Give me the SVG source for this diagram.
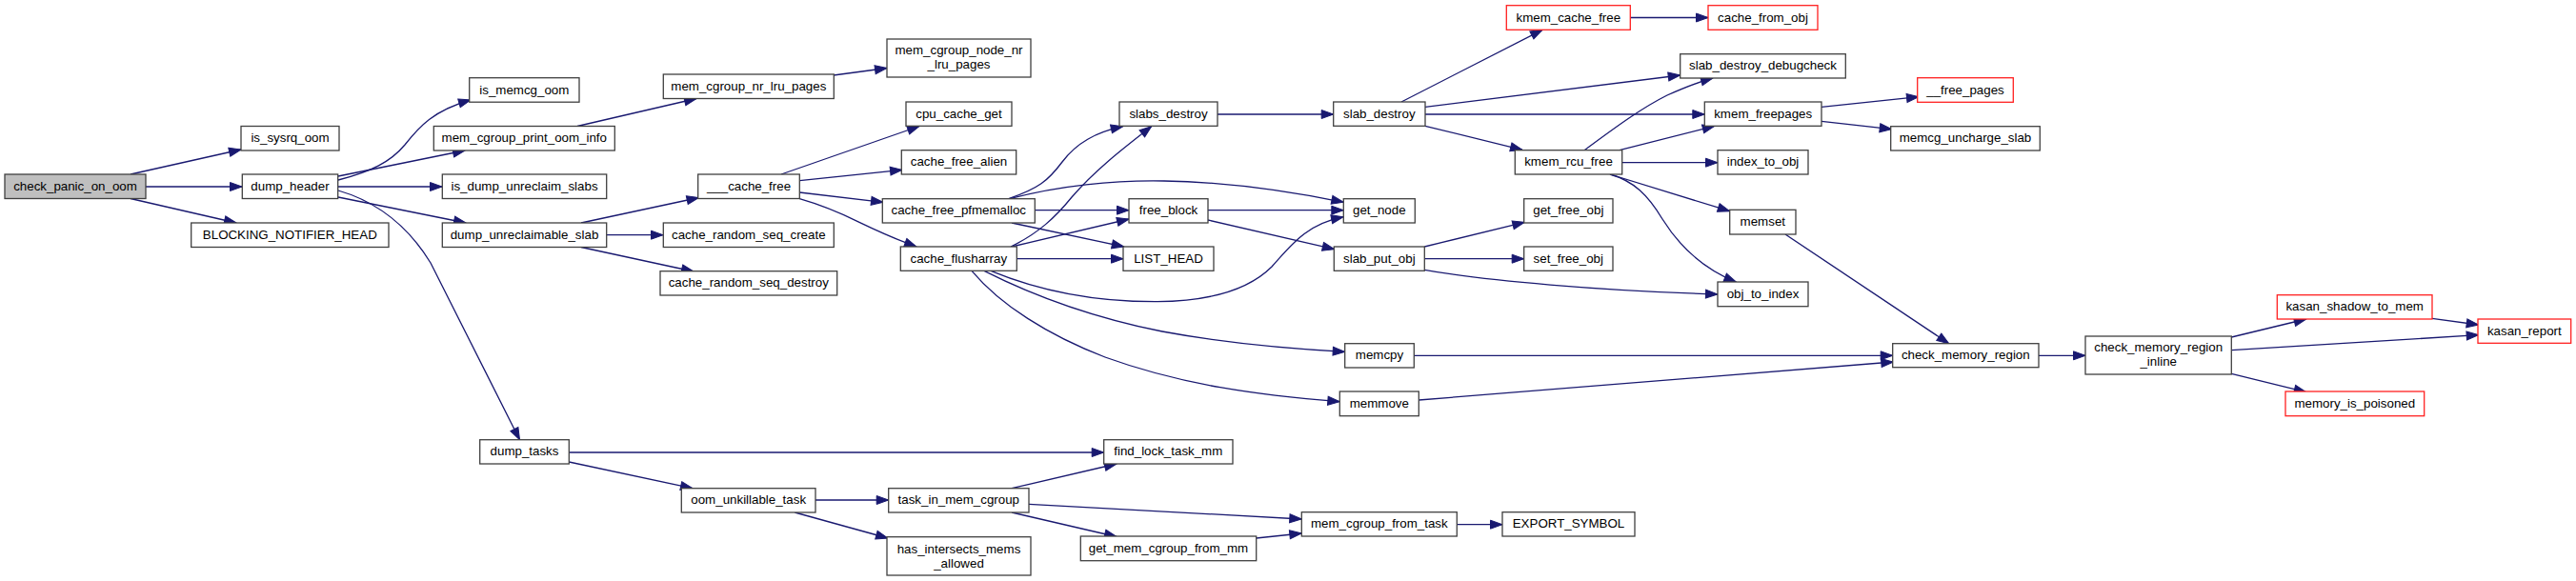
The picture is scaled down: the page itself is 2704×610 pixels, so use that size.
<svg xmlns="http://www.w3.org/2000/svg" width="2704" height="610" viewBox="0 0 2704 610">
<style>
.n rect{fill:#fff;stroke:#404040;stroke-width:1.3}
.n.r rect{stroke:#ff2020}
.n.root rect{fill:#bfbfbf}
.n text{font-family:"Liberation Sans",Arial,Helvetica,sans-serif;font-size:13.33px;text-anchor:middle;fill:#000}
.e path{fill:none;stroke:#191970;stroke-width:1.3;marker-end:url(#a)}
</style>
<defs>
<marker id="a" markerUnits="userSpaceOnUse" markerWidth="16" markerHeight="14" refX="13" refY="5" orient="auto" overflow="visible">
<path d="M0.5,0.5 L13,5 L0.5,9.5 z" fill="#191970" stroke="#191970" stroke-width="1"/>
</marker>
</defs>
<rect width="2704" height="610" fill="#fff"/>
<g id="edges" class="e">
<path d="M137,183 L253,157"/>
<path d="M153,196 L254,196"/>
<path d="M137,208.5 L248,234"/>
<path d="M355,189 C390,180 410,170 425,152 C440,133 455,116 494,105"/>
<path d="M355,185 L488,158"/>
<path d="M355,196 L464,196"/>
<path d="M355,207 L489,234"/>
<path d="M355,200 C400,213 430,240 452,276 L545.5,461.7"/>
<path d="M606,132.5 L731,103.5"/>
<path d="M875,79 L931,71.5"/>
<path d="M610,234 L733.5,207.5"/>
<path d="M637,246.7 L696,246.7"/>
<path d="M610,259.5 L728,285"/>
<path d="M820,183 L965,132.5"/>
<path d="M839.3,189.7 L947,178.3"/>
<path d="M839.3,202 L927,212.3"/>
<path d="M839.3,208.7 C865,216 885,225 902,233.3 C920,242 940,251 962,259"/>
<path d="M1058.7,208.7 C1090,198 1100,190 1115,170 C1130,150 1150,139 1178.7,132.7"/>
<path d="M1060,208.7 C1110,195 1170,189 1222,190 C1290,191 1350,200 1410.3,212.3"/>
<path d="M1086.3,220.7 L1185,220.7"/>
<path d="M1062,234 L1179.7,259"/>
<path d="M1061,259 C1090,245 1108,228 1125,207 C1150,178 1180,155 1208.7,132.7"/>
<path d="M1062,259 L1185,230"/>
<path d="M1067.3,271.7 L1179,271.7"/>
<path d="M1040,284.3 C1090,305 1150,317 1215,316.7 C1280,316 1315,300 1335,280 C1355,258 1370,236 1410,227.7"/>
<path d="M1033,284.3 C1070,303 1130,330 1220,348 C1290,361 1350,366 1411.7,369.3"/>
<path d="M1020,284.3 C1050,320 1100,352 1160,375 C1240,404 1320,415 1406.3,421.7"/>
<path d="M1268,220.7 L1410.3,220.7"/>
<path d="M1268,231 L1400.7,261.7"/>
<path d="M1278,120 L1399.7,120"/>
<path d="M1471,107 L1619,31.3"/>
<path d="M1496,112.3 L1763.7,79"/>
<path d="M1496,120 L1789.3,120"/>
<path d="M1496,132.3 L1598,157.3"/>
<path d="M1711.3,18.5 L1793,18.5"/>
<path d="M1663,157.7 C1690,138 1720,115 1750,100 C1768,92 1783,86 1798,82"/>
<path d="M1700,157.7 L1799.7,132.3"/>
<path d="M1702.7,170.7 L1803,170.7"/>
<path d="M1690,183 L1815.7,221.7"/>
<path d="M1690,183 C1715,190 1730,205 1745,230 C1765,262 1790,283 1822.3,296"/>
<path d="M1912,112.3 L2014,101.7"/>
<path d="M1912,127.3 L1985.7,135.7"/>
<path d="M1495.3,259 L1600.3,233.3"/>
<path d="M1495.3,271.7 L1599.7,271.7"/>
<path d="M1495.3,283.3 C1560,295 1680,305 1803,309"/>
<path d="M1874,246 L2045.7,360.7"/>
<path d="M1484.3,373.3 L1986.7,373.3"/>
<path d="M1489.3,420 L1987.3,380"/>
<path d="M2140,373.3 L2189,373.3"/>
<path d="M2342.3,354 L2420.7,335"/>
<path d="M2342.3,367.7 L2601.7,351.7"/>
<path d="M2342.3,392.3 L2420.7,411.7"/>
<path d="M2553,334.3 L2601.7,341"/>
<path d="M597.3,475 L1158.7,475"/>
<path d="M597.3,485 L727,512.7"/>
<path d="M856,525 L932.7,525"/>
<path d="M834.3,538 L932,565"/>
<path d="M1062,512.7 L1172,487"/>
<path d="M1080,529.3 L1366.3,545"/>
<path d="M1062,538 L1172,563.5"/>
<path d="M1318.7,565 L1366.3,560"/>
<path d="M1529.3,550.7 L1577,550.7"/>
</g>
<g id="check_panic_on_oom" class="n root"><rect x="5" y="183" width="148" height="25.5"/><text x="79" y="199.8">check_panic_on_oom</text></g>
<g id="is_sysrq_oom" class="n"><rect x="253" y="132.5" width="103" height="25.5"/><text x="304.5" y="149">is_sysrq_oom</text></g>
<g id="dump_header" class="n"><rect x="254.3" y="183" width="100.4" height="25.5"/><text x="304.5" y="199.8">dump_header</text></g>
<g id="BLOCKING_NOTIFIER_HEAD" class="n"><rect x="200.7" y="234" width="207.3" height="25.5"/><text x="304.3" y="250.8">BLOCKING_NOTIFIER_HEAD</text></g>
<g id="is_memcg_oom" class="n"><rect x="492.7" y="81.7" width="115.3" height="25.5"/><text x="550.3" y="98.5">is_memcg_oom</text></g>
<g id="mem_cgroup_print_oom_info" class="n"><rect x="455.3" y="132.5" width="190" height="25.5"/><text x="550.3" y="149">mem_cgroup_print_oom_info</text></g>
<g id="is_dump_unreclaim_slabs" class="n"><rect x="464.3" y="183" width="172.4" height="25.5"/><text x="550.5" y="199.8">is_dump_unreclaim_slabs</text></g>
<g id="dump_unreclaimable_slab" class="n"><rect x="464.3" y="234" width="172.4" height="25.5"/><text x="550.5" y="250.8">dump_unreclaimable_slab</text></g>
<g id="dump_tasks" class="n"><rect x="503.7" y="461.7" width="93.6" height="25.3"/><text x="550.5" y="478.3">dump_tasks</text></g>
<g id="mem_cgroup_nr_lru_pages" class="n"><rect x="696.3" y="78" width="179" height="25.5"/><text x="785.8" y="94.8">mem_cgroup_nr_lru_pages</text></g>
<g id="___cache_free" class="n"><rect x="732.7" y="183" width="106.6" height="25.5"/><text x="786" y="199.8">___cache_free</text></g>
<g id="cache_random_seq_create" class="n"><rect x="696.3" y="234" width="179" height="25.5"/><text x="785.8" y="250.8">cache_random_seq_create</text></g>
<g id="cache_random_seq_destroy" class="n"><rect x="693" y="284.7" width="185.7" height="25.3"/><text x="785.8" y="301.3">cache_random_seq_destroy</text></g>
<g id="oom_unkillable_task" class="n"><rect x="715.3" y="512.7" width="140.7" height="25.3"/><text x="785.7" y="529.3">oom_unkillable_task</text></g>
<g id="mem_cgroup_node_nr_lru_pages" class="n"><rect x="931" y="41" width="151" height="40"/><text x="1006.5" y="57.3">mem_cgroup_node_nr</text><text x="1006.5" y="72.3">_lru_pages</text></g>
<g id="cpu_cache_get" class="n"><rect x="951" y="107" width="111" height="25.3"/><text x="1006.5" y="123.7">cpu_cache_get</text></g>
<g id="cache_free_alien" class="n"><rect x="946.3" y="157.7" width="120.4" height="25.3"/><text x="1006.5" y="174.3">cache_free_alien</text></g>
<g id="cache_free_pfmemalloc" class="n"><rect x="926.3" y="208.7" width="160" height="25.3"/><text x="1006.3" y="225.3">cache_free_pfmemalloc</text></g>
<g id="cache_flusharray" class="n"><rect x="945.3" y="259" width="122" height="25.3"/><text x="1006.3" y="275.7">cache_flusharray</text></g>
<g id="task_in_mem_cgroup" class="n"><rect x="932.7" y="512.7" width="147.3" height="25.3"/><text x="1006.3" y="529.3">task_in_mem_cgroup</text></g>
<g id="has_intersects_mems_allowed" class="n"><rect x="931" y="563.7" width="151" height="40.3"/><text x="1006.5" y="580.5">has_intersects_mems</text><text x="1006.5" y="595.5">_allowed</text></g>
<g id="slabs_destroy" class="n"><rect x="1175" y="107" width="103" height="25.3"/><text x="1226.5" y="123.7">slabs_destroy</text></g>
<g id="free_block" class="n"><rect x="1185" y="208.7" width="83" height="25.3"/><text x="1226.5" y="225.3">free_block</text></g>
<g id="LIST_HEAD" class="n"><rect x="1179" y="259" width="95" height="25.3"/><text x="1226.5" y="275.7">LIST_HEAD</text></g>
<g id="find_lock_task_mm" class="n"><rect x="1158.7" y="461.7" width="135.3" height="25.3"/><text x="1226.3" y="478.3">find_lock_task_mm</text></g>
<g id="get_mem_cgroup_from_mm" class="n"><rect x="1134.3" y="563" width="184.4" height="25.7"/><text x="1226.5" y="579.8">get_mem_cgroup_from_mm</text></g>
<g id="slab_destroy" class="n"><rect x="1399.7" y="107" width="96.3" height="25.3"/><text x="1447.8" y="123.7">slab_destroy</text></g>
<g id="get_node" class="n"><rect x="1410.3" y="208.7" width="75" height="25.3"/><text x="1447.8" y="225.3">get_node</text></g>
<g id="slab_put_obj" class="n"><rect x="1400.3" y="259" width="95" height="25.3"/><text x="1447.8" y="275.7">slab_put_obj</text></g>
<g id="memcpy" class="n"><rect x="1411.7" y="360.7" width="72.6" height="25.3"/><text x="1448" y="377.3">memcpy</text></g>
<g id="memmove" class="n"><rect x="1406.3" y="411" width="83" height="25.7"/><text x="1447.8" y="427.8">memmove</text></g>
<g id="mem_cgroup_from_task" class="n"><rect x="1366.3" y="537.7" width="163" height="25.3"/><text x="1447.8" y="554.3">mem_cgroup_from_task</text></g>
<g id="kmem_cache_free" class="n r"><rect x="1581.3" y="5.7" width="130" height="25.6"/><text x="1646.3" y="22.5">kmem_cache_free</text></g>
<g id="kmem_rcu_free" class="n"><rect x="1590.3" y="157.7" width="112.4" height="25.3"/><text x="1646.5" y="174.3">kmem_rcu_free</text></g>
<g id="get_free_obj" class="n"><rect x="1599.7" y="208.7" width="93.3" height="25.3"/><text x="1646.3" y="225.3">get_free_obj</text></g>
<g id="set_free_obj" class="n"><rect x="1599.7" y="259" width="93.3" height="25.3"/><text x="1646.3" y="275.7">set_free_obj</text></g>
<g id="EXPORT_SYMBOL" class="n"><rect x="1577" y="537.7" width="139" height="25.3"/><text x="1646.5" y="554.3">EXPORT_SYMBOL</text></g>
<g id="cache_from_obj" class="n r"><rect x="1793" y="5.7" width="115" height="25.6"/><text x="1850.5" y="22.5">cache_from_obj</text></g>
<g id="slab_destroy_debugcheck" class="n"><rect x="1763.7" y="56.7" width="173.6" height="25.3"/><text x="1850.5" y="73.3">slab_destroy_debugcheck</text></g>
<g id="kmem_freepages" class="n"><rect x="1789.3" y="107" width="122.7" height="25.3"/><text x="1850.7" y="123.7">kmem_freepages</text></g>
<g id="index_to_obj" class="n"><rect x="1803" y="157.7" width="95" height="25.3"/><text x="1850.5" y="174.3">index_to_obj</text></g>
<g id="memset" class="n"><rect x="1815.7" y="220.3" width="69.3" height="25.7"/><text x="1850.3" y="237.2">memset</text></g>
<g id="obj_to_index" class="n"><rect x="1803" y="296" width="95" height="25.7"/><text x="1850.5" y="312.8">obj_to_index</text></g>
<g id="__free_pages" class="n r"><rect x="2012.7" y="81.7" width="100.6" height="25.6"/><text x="2063" y="98.5">__free_pages</text></g>
<g id="memcg_uncharge_slab" class="n"><rect x="1984.7" y="132.7" width="156.6" height="25.3"/><text x="2063" y="149.3">memcg_uncharge_slab</text></g>
<g id="check_memory_region" class="n"><rect x="1986.7" y="360.7" width="153.3" height="25"/><text x="2063.3" y="377.2">check_memory_region</text></g>
<g id="check_memory_region_inline" class="n"><rect x="2189" y="353" width="153.3" height="40"/><text x="2265.7" y="369.3">check_memory_region</text><text x="2265.7" y="384.3">_inline</text></g>
<g id="kasan_shadow_to_mem" class="n r"><rect x="2390.3" y="309.7" width="162.7" height="25.3"/><text x="2471.7" y="326.3">kasan_shadow_to_mem</text></g>
<g id="memory_is_poisoned" class="n r"><rect x="2399" y="411" width="145.7" height="25.7"/><text x="2471.8" y="427.8">memory_is_poisoned</text></g>
<g id="kasan_report" class="n r"><rect x="2601" y="335" width="97.7" height="25.3"/><text x="2649.8" y="351.7">kasan_report</text></g>
</svg>
